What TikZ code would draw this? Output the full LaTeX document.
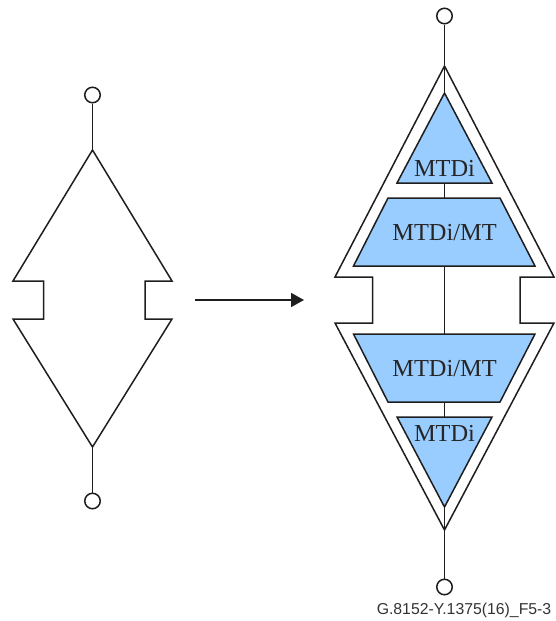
\documentclass[tikz,border=0pt]{standalone}
\usepackage{fontspec}
\setmainfont{Liberation Serif}
\newfontfamily\labelfont{Liberation Sans}
\usetikzlibrary{arrows.meta}
\definecolor{mtblue}{RGB}{153,204,255}
\definecolor{mtline}{RGB}{30,30,30}
\begin{document}
\begin{tikzpicture}[%
    x=1pt,y=-1pt,
    line width=1.5pt,
    port/.style={draw=mtline,circle,fill=white,inner sep=0,minimum size=15.5pt},
    outline/.style={draw=mtline,line join=miter},
    block/.style={draw=mtline,fill=mtblue,line join=miter},
    wire/.style={draw=mtline},
    blocktext/.style={inner sep=0,text=black!85,font=\fontsize{24.4}{26}\selectfont}
    ]
    \useasboundingbox (0,0) rectangle (555,621);
    %%% Linker figuur
    \node[port] (l_top) at (92.5,95) {};
    \node[port] (l_bot) at (92.5,501) {};
    \coordinate (l_apex) at (92.5,150);
    \coordinate (l_foot) at (92.5,447);
    \path[outline] (l_apex) -- (172,281) -- (145,281) -- (145,319) -- (172,319) -- (l_foot)
        -- (13,319) -- (43.5,319) -- (43.5,281) -- (13,281) -- cycle;
    \path[wire] (l_top) -- (l_apex);
    \path[wire] (l_foot) -- (l_bot);
    %%% Pijl
    \coordinate (arrow_a) at (195,300);
    \coordinate (arrow_b) at (304,300);
    \draw[mtline,-{Stealth[length=13pt,width=14pt,inset=0pt]}] (arrow_a) -- (arrow_b);
    %%% Rechter figuur
    \node[port] (r_top) at (444.5,16) {};
    \node[port] (r_bot) at (444.5,587) {};
    \coordinate (r_apex) at (444.5,66);
    \coordinate (r_foot) at (444.5,530);
    \path[outline] (r_apex) -- (554,277) -- (520,277) -- (520,323) -- (554,323) -- (r_foot)
        -- (335,323) -- (372.5,323) -- (372.5,277) -- (335,277) -- cycle;
    %%% Blokken boven
    \coordinate (tri_up_top) at (444.5,93);
    \coordinate (tri_up_bot) at (444.5,183);
    \coordinate (trap_up_top) at (444.5,198);
    \coordinate (trap_up_bot) at (444.5,266);
    \path[block] (tri_up_top) -- (492,183) -- (397,183) -- cycle;
    \path[block] (388,198) -- (500,198) -- (535,266) -- (353.5,266) -- cycle;
    %%% Blokken onder
    \coordinate (trap_dn_top) at (444.5,334);
    \coordinate (trap_dn_bot) at (444.5,402);
    \coordinate (tri_dn_top) at (444.5,417);
    \coordinate (tri_dn_bot) at (444.5,507);
    \path[block] (353.5,334) -- (535,334) -- (500,402) -- (388,402) -- cycle;
    \path[block] (397,417) -- (492,417) -- (tri_dn_bot) -- cycle;
    %%% Verbindingen
    \path[wire] (r_top) -- (tri_up_top);
    \path[wire] (tri_up_bot) -- (trap_up_top);
    \path[wire] (trap_up_bot) -- (trap_dn_top);
    \path[wire] (trap_dn_bot) -- (tri_dn_top);
    \path[wire] (tri_dn_bot) -- (r_bot);
    %%% Teksten
    \node[blocktext] (mtdi_up) at (444.5,168) {MTDi};
    \node[blocktext] (mtdimt_up) at (444.5,233) {MTDi/MT};
    \node[blocktext] (mtdimt_dn) at (444.5,369) {MTDi/MT};
    \node[blocktext] (mtdi_dn) at (444.5,433) {MTDi};
    \node[inner sep=0,anchor=east,text=black!80,font=\labelfont\fontsize{15.8}{18}\selectfont] (fig_id) at (552,610) {G.8152-Y.1375(16)\_F5-3};
\end{tikzpicture}
\end{document}
